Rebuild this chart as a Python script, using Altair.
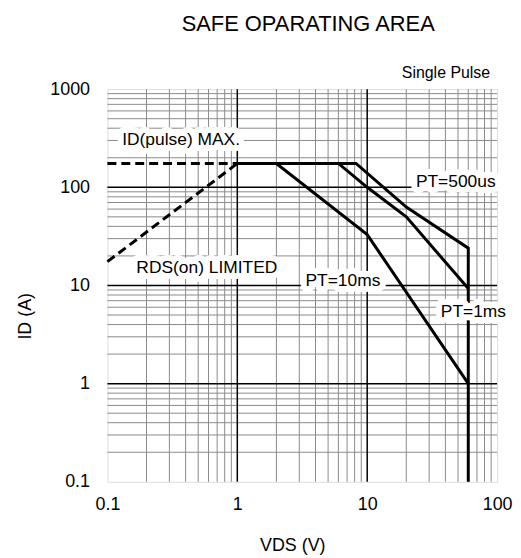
import altair as alt
import pandas as pd

FONT = "Liberation Sans"

# ---- curve data (VDS in V, ID in A) ----
vds_idmax = [0.1, 1]
id_idmax = [175, 175]
vds_rds = [0.1, 1]
id_rds = [17.5, 175]
vds_10ms = [1, 2, 10, 60]
id_10ms = [175, 175, 33, 1]
vds_1ms = [1, 6, 10, 20, 60]
id_1ms = [175, 175, 100, 50, 9.3]
vds_500us = [1, 8.2, 20, 60, 60]
id_500us = [175, 175, 63, 24, 0.1]

# ---- axes / grid ----
x_ticks = [0.1, 1, 10, 100]
y_ticks = [0.1, 1, 10, 100, 1000]
x_major = [1, 10]
y_major = [1, 10, 100]
x_minor = [m * d for d in [0.1, 1, 10] for m in range(2, 10)]
y_minor = [m * d for d in [0.1, 1, 10, 100] for m in range(2, 10)]

# ---- annotations ----
label_text = ["ID(pulse) MAX.", "RDS(on)  LIMITED", "PT=10ms", "PT=500us", "PT=1ms"]
label_vds = [0.13, 0.167, 3.35, 23.7, 36.9]
label_id = [300, 14.9, 11.2, 112, 5.33]

def rows(name, xs, ys):
    return [{"series": name, "i": i, "vds": x, "id": y} for i, (x, y) in enumerate(zip(xs, ys))]

solid = pd.DataFrame(rows("10ms", vds_10ms, id_10ms) + rows("1ms", vds_1ms, id_1ms)
                     + rows("500us", vds_500us, id_500us))
dashed = pd.DataFrame(rows("idmax", vds_idmax, id_idmax) + rows("rds", vds_rds, id_rds))
labels = pd.DataFrame({"text": label_text, "vds": label_vds, "id": label_id})

xscale = alt.Scale(type="log", domain=[0.1, 100], nice=False)
yscale = alt.Scale(type="log", domain=[0.1, 1000], nice=False)
xaxis = alt.Axis(values=x_ticks, format="~g", grid=False, ticks=False, domain=False,
                 labelFontSize=18, labelFont=FONT, labelColor="black", labelPadding=14,
                 labelFlush=False, labelOverlap=False,
                 title="VDS  (V)", titleFontSize=18, titleFont=FONT, titleFontWeight="normal",
                 titleColor="black", titleX=186, titleY=69, titleBaseline="alphabetic")
yaxis = alt.Axis(values=y_ticks, format="~g", grid=False, ticks=False, domain=False,
                 labelFontSize=18, labelFont=FONT, labelColor="black", labelPadding=18,
                 labelOverlap=False,
                 title="ID  (A)", titleFontSize=18, titleFont=FONT, titleFontWeight="normal",
                 titleColor="black", titleX=-82, titleY=228, titleBaseline="middle",
                 titleAngle=270)

X = alt.X("vds:Q", scale=xscale, axis=xaxis)
Y = alt.Y("id:Q", scale=yscale, axis=yaxis)

vminor = alt.Chart(pd.DataFrame({"vds": x_minor})).mark_rule(color="#8a8a8a", strokeWidth=1).encode(x=X)
hminor = alt.Chart(pd.DataFrame({"id": y_minor})).mark_rule(color="#8a8a8a", strokeWidth=1).encode(y=Y)
vmajor = alt.Chart(pd.DataFrame({"vds": x_major})).mark_rule(color="black", strokeWidth=1.5).encode(x=X)
hmajor = alt.Chart(pd.DataFrame({"id": y_major})).mark_rule(color="black", strokeWidth=1.5).encode(y=Y)

dash_lines = alt.Chart(dashed).mark_line(color="black", strokeWidth=3, strokeDash=[9, 5]).encode(
    x=X, y=Y, detail="series:N", order="i:Q")
solid_lines = alt.Chart(solid).mark_line(color="black", strokeWidth=3).encode(
    x=X, y=Y, detail="series:N", order="i:Q")

halo = alt.Chart(labels).mark_text(align="left", baseline="middle", fontSize=17.5, font=FONT,
                                   stroke="white", strokeWidth=12, strokeJoin="round",
                                   fill="white").encode(x=X, y=Y, text="text:N")
label_marks = alt.Chart(labels).mark_text(align="left", baseline="middle", fontSize=17.5, font=FONT,
                                          color="black").encode(x=X, y=Y, text="text:N")

single = alt.Chart(pd.DataFrame({"vds": [100], "id": [1000], "text": ["Single Pulse"]})).mark_text(
    align="right", baseline="alphabetic", fontSize=16, font=FONT, color="black", dx=-7, dy=-11
).encode(x=X, y=Y, text="text:N")

chart = alt.layer(vminor, hminor, vmajor, hmajor, dash_lines, solid_lines, halo, label_marks, single).properties(
    width=392, height=395,
    autosize=alt.AutoSizeParams(type="none"),
    padding={"left": 100, "top": 80, "right": 16, "bottom": 72},
    title=alt.TitleParams("SAFE OPARATING AREA", fontSize=22, font=FONT, fontWeight="normal",
                          color="black", frame="group", anchor="middle", offset=12, dx=6,
                          baseline="alphabetic"),
).configure_view(stroke="black", strokeWidth=1.5).configure(background="white")

chart.save("out.html", embed_options={"renderer": "svg", "actions": False})
